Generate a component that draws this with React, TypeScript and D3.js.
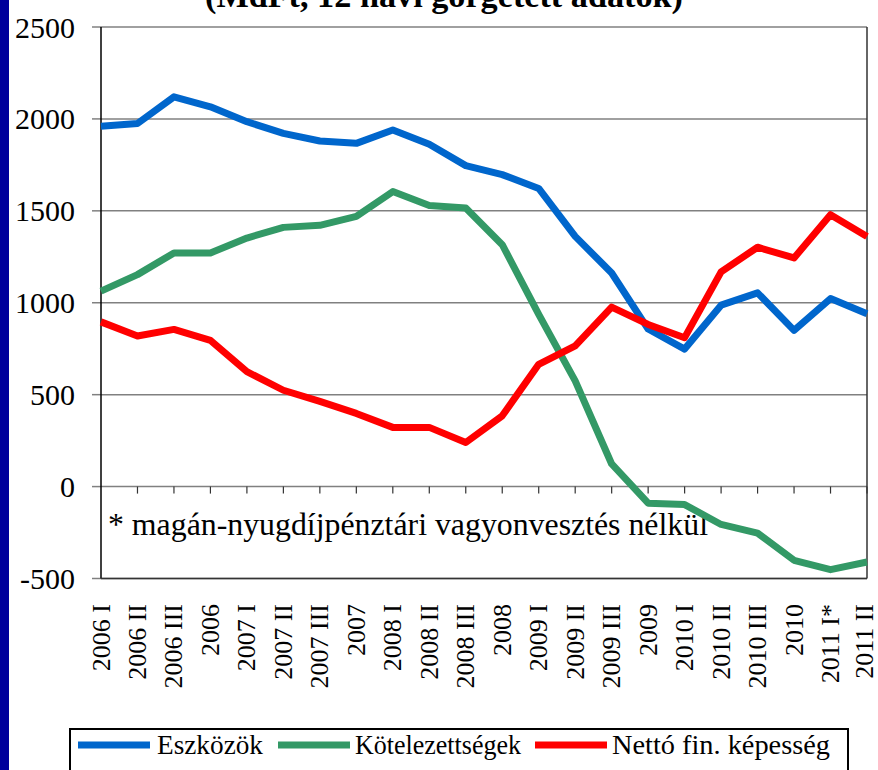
import React from 'react';
import * as d3 from 'd3';

const categories = [
  '2006 I', '2006 II', '2006 III', '2006',
  '2007 I', '2007 II', '2007 III', '2007',
  '2008 I', '2008 II', '2008 III', '2008',
  '2009 I', '2009 II', '2009 III', '2009',
  '2010 I', '2010 II', '2010 III', '2010',
  '2011 I*', '2011 II',
];

const eszkozok = [1960, 1975, 2120, 2066, 1985, 1921, 1880, 1867, 1940, 1862, 1746, 1697, 1622, 1361, 1162, 857, 748, 987, 1054, 850, 1023, 940];
const kotelezettsegek = [1063, 1153, 1271, 1271, 1352, 1410, 1421, 1470, 1605, 1529, 1515, 1316, 937, 575, 123, -90, -98, -206, -253, -401, -452, -410];
const netto = [896, 819, 855, 795, 625, 524, 463, 398, 322, 322, 240, 385, 665, 765, 976, 882, 810, 1168, 1302, 1244, 1479, 1361];

const yTicks = [-500, 0, 500, 1000, 1500, 2000, 2500];

const seriesNames = ['Eszközök', 'Kötelezettségek', 'Nettó fin. képesség'];
const seriesColors = ['#0066CC', '#339966', '#FF0000'];

const titleText = '(MdFt, 12 havi görgetett adatok)';
const noteText = '* magán-nyugdíjpénztári vagyonvesztés nélkül';

const W = 878;
const H = 770;
const left = 101;
const right = 867;
const top = 27;
const bottom = 578.5;
const font = "'Liberation Serif', 'DejaVu Serif', serif";
const ts: React.CSSProperties = { fontFamily: font };

export default function App() {
  const x = d3.scalePoint<string>().domain(categories).range([left, right]);
  const y = d3.scaleLinear().domain([-500, 2500]).range([bottom, top]);
  const series = [eszkozok, kotelezettsegek, netto];
  const line = d3
    .line<number>()
    .x((_, i) => x(categories[i]) as number)
    .y((d) => y(d));
  const y0 = y(0);

  const legendItems = [
    { lx: 78, tx: 157, len: 106 },
    { lx: 278, tx: 355, len: 166 },
    { lx: 535, tx: 612, len: 218 },
  ];

  return (
    <svg
      width={W}
      height={H}
      style={{ position: 'absolute', left: 0, top: 0, background: '#fff', fontFamily: font }}
    >
      <rect x={0} y={0} width={W} height={H} fill="#fff" />
      <rect x={0} y={0} width={9} height={H} fill="#00009C" />

      <text
        x={444}
        y={7}
        textAnchor="middle"
        fontWeight="bold"
        fontSize={33}
        textLength={478}
        lengthAdjust="spacingAndGlyphs"
        style={ts}
      >
        {titleText}
      </text>

      {/* gridlines */}
      {yTicks.map((t) => (
        <line key={'g' + t} x1={left} x2={right} y1={y(t)} y2={y(t)} stroke="#808080" strokeWidth={1.5} />
      ))}
      {/* y ticks */}
      {yTicks.map((t) => (
        <line key={'t' + t} x1={92} x2={left} y1={y(t)} y2={y(t)} stroke="#808080" strokeWidth={1.5} />
      ))}
      {/* plot border */}
      <line x1={left} x2={left} y1={top} y2={bottom} stroke="#000" strokeWidth={1.5} />
      <line x1={right} x2={right} y1={top} y2={bottom} stroke="#333" strokeWidth={1.5} />
      <line x1={left} x2={right} y1={bottom} y2={bottom} stroke="#333" strokeWidth={1.5} />

      {/* x ticks on zero line */}
      {categories.map((c, i) =>
        i === 0 ? null : (
          <line key={'xt' + c} x1={x(c)} x2={x(c)} y1={y0} y2={y0 + 7} stroke="#333" strokeWidth={1.2} />
        )
      )}

      {/* y labels */}
      {yTicks.map((t) => (
        <text key={'yl' + t} x={75} y={y(t)} textAnchor="end" dominantBaseline="central" fontSize={30} fill="#000" style={ts}>
          {String(t)}
        </text>
      ))}

      {/* x labels */}
      {categories.map((c) => (
        <text
          key={'xl' + c}
          transform={`translate(${Math.min(x(c) as number, 864)},604) rotate(-90)`}
          textAnchor="end"
          dominantBaseline="central"
          fontSize={26}
          fill="#000"
          style={ts}
        >
          {c}
        </text>
      ))}

      {/* note */}
      <text x={108} y={535} fontSize={31} textLength={600} lengthAdjust="spacingAndGlyphs" fill="#000" style={ts}>
        {noteText}
      </text>

      {/* series lines */}
      {series.map((s, k) => (
        <path
          key={'s' + k}
          d={line(s) || ''}
          fill="none"
          stroke={seriesColors[k]}
          strokeWidth={7}
          strokeLinejoin="round"
        />
      ))}

      {/* legend */}
      <rect x={70} y={729} width={778} height={80} fill="#fff" stroke="#000" strokeWidth={2} />
      {seriesNames.map((n, k) => (
        <g key={'lg' + k}>
          <line
            x1={legendItems[k].lx}
            x2={legendItems[k].lx + 72}
            y1={745}
            y2={745}
            stroke={seriesColors[k]}
            strokeWidth={7}
          />
          <text
            x={legendItems[k].tx}
            y={754}
            fontSize={27}
            fill="#000"
            style={ts}
            textLength={legendItems[k].len}
            lengthAdjust="spacingAndGlyphs"
          >
            {n}
          </text>
        </g>
      ))}
    </svg>
  );
}
